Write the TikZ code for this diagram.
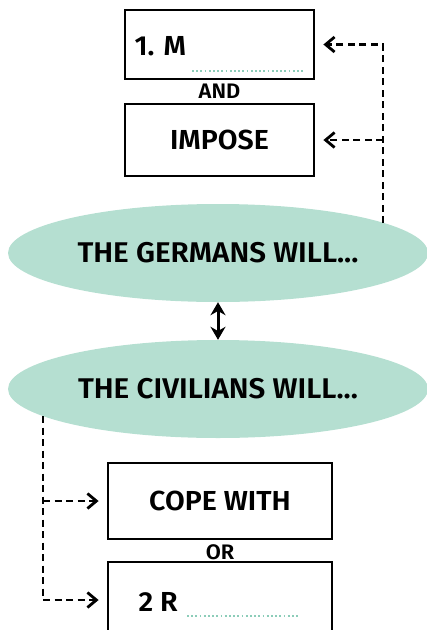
\documentclass[tikz,border=0pt]{standalone}
\usepackage{fontspec}
\setmainfont{Fira Sans}[BoldFont={Fira Sans SemiBold}, FakeStretch=1.04]
\usepackage{xcolor}
\usetikzlibrary{shapes.geometric,arrows.meta}
\definecolor{mint}{RGB}{181,223,209}
\definecolor{dotmint}{RGB}{140,205,185}
\tikzset{
  answerbox/.style={draw=black, line width=2.8pt, minimum width=#1, inner sep=0pt},
  oval/.style={ellipse, fill=mint, minimum width=420pt, minimum height=98pt,
    font=\fontsize{28.5}{31}\selectfont\bfseries},
  boxtext/.style={font=\fontsize{27.5}{30}\selectfont\bfseries},
  joinword/.style={font=\fontsize{21}{23}\selectfont\bfseries},
  dashline/.style={line width=2.8pt, dash pattern=on 7pt off 4.5pt,
    -{Straight Barb[length=9pt,width=15pt,line width=2.8pt]}, shorten >=8pt},
  gapline/.style={dotmint, line width=1.8pt, dash pattern=on 1.8pt off 2.4pt}
}
\begin{document}
\begin{tikzpicture}[x=1pt, y=-1pt]
\useasboundingbox (0,0) rectangle (427,630);

% top boxes
\node [answerbox=189pt, minimum height=69pt] (m1) at (219.5,44.5) {};
\node [boxtext, anchor=west] (m1txt) at (131,46) {1. M};
\coordinate (m1a) at (192,71);
\coordinate (m1b) at (303,71);
\draw [gapline] (m1a) -- (m1b);
\node [joinword] (and) at (219.5,91) {AND};
\node [answerbox=189pt, minimum height=72pt, boxtext] (impose) at (219.5,140) {IMPOSE};

% the two ovals
\node [oval] (germans) at (218,253) {THE GERMANS WILL...};
\node [oval] (civilians) at (218,389) {THE CIVILIANS WILL...};
\draw [line width=3pt, {Stealth[length=13pt,width=15pt]}-{Stealth[length=13pt,width=15pt]}]
  (germans) -- (civilians);

% bottom boxes
\node [answerbox=224pt, minimum height=76pt, boxtext] (cope) at (220,501) {COPE WITH};
\node [joinword] (or) at (220,552) {OR};
\node [answerbox=224pt, minimum height=76pt] (r2) at (220,600) {};
\node [boxtext, anchor=west] (r2txt) at (135,602) {2 R};
\coordinate (r2a) at (187,616);
\coordinate (r2b) at (299,616);
\draw [gapline] (r2a) -- (r2b);

% dashed connectors
\coordinate (gup) at (383,223);
\draw [dashline] (gup) |- (m1.east);
\draw [dashline] (gup |- impose.east) -- (impose.east);
\coordinate (cdown) at (43,416);
\draw [dashline] (cdown) |- (r2.west);
\draw [dashline] (cdown |- cope.west) -- (cope.west);
\end{tikzpicture}
\end{document}
